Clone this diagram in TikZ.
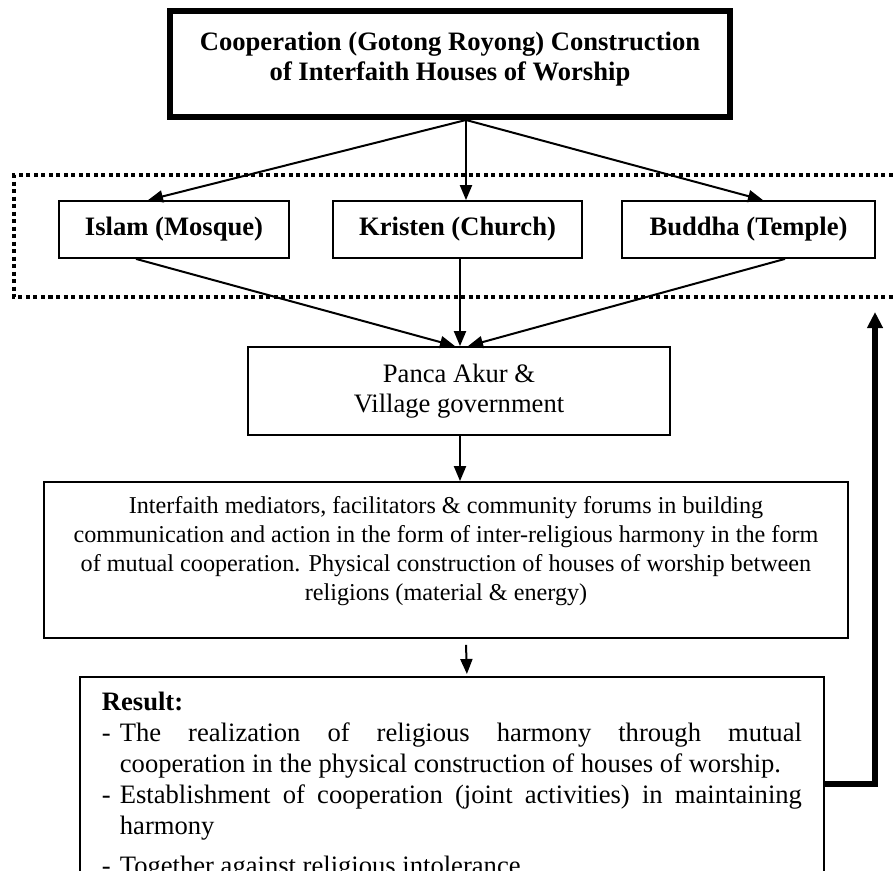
\documentclass[tikz,border=0pt]{standalone}
\usepackage{fontspec}
\setmainfont{Liberation Serif}
\usetikzlibrary{arrows.meta,calc}
\begin{document}
\begin{tikzpicture}[x=1pt,y=-1pt,
  box/.style={draw, line width=1.8pt, inner sep=0pt},
  big/.style={font=\fontsize{26.6}{30}\selectfont},
  bigb/.style={font=\fontsize{26.6}{30}\selectfont\bfseries},
  mid/.style={font=\fontsize{24.2}{29}\selectfont},
  arr/.style={line width=2pt, -{Triangle[length=15pt,width=12pt]}},
  fb/.style={line width=6pt, line join=miter, -{Triangle[length=16pt,width=15pt]}},
  dotframe/.style={line width=4.5pt, dash pattern=on 4pt off 3.5pt},
]
\useasboundingbox (0,0) rectangle (893,870);
\fill[white] (0,0) rectangle (893,870);
\clip (0,0) rectangle (893,870);

% dotted frame (open on the right)
\coordinate (dA) at (900,175);
\coordinate (dB) at (14,175);
\coordinate (dC) at (14,297);
\coordinate (dD) at (900,297);
\draw[dotframe] (dA) -- (dB) -- (dC) -- (dD);

% top box
\node[draw, line width=6pt, inner sep=0pt, minimum width=560pt, minimum height=106pt] (top) at (450,64) {};
\node[bigb, align=center, inner sep=0pt] (title) at (450,58.7) {Cooperation (Gotong Royong) Construction\\of Interfaith Houses of Worship};

% religion boxes
\node[box, bigb, minimum width=230pt, minimum height=57pt] (isl) at (174,229.5) {Islam (Mosque)};
\node[box, bigb, minimum width=249pt, minimum height=57pt] (kri) at (457.5,229.5) {Kristen (Church)};
\node[box, bigb, minimum width=253pt, minimum height=57pt] (bud) at (748.5,229.5) {Buddha (Temple)};

% Panca Akur
\node[box, big, align=center, minimum width=422pt, minimum height=88pt] (pan) at (459,391) {Panca Akur \&\\Village government};

% Interfaith box
\node[box, minimum width=804pt, minimum height=156pt] (inter) at (446,560) {};
\node[mid, align=center, inner sep=0pt] (intertext) at (446,550.9) {Interfaith mediators, facilitators \& community forums in building\\communication and action in the form of inter-religious harmony in the form\\of mutual cooperation. Physical construction of houses of worship between\\religions (material \& energy)};

% Result box
\node[draw, line width=1.8pt, anchor=north west, text width=700pt, inner xsep=22pt, inner ysep=15pt, font=\fontsize{26.6}{31}\selectfont, align=justify] (res) at (79,676) {%
{\bfseries Result:}\par
\hangindent=18pt\hangafter=1\noindent\makebox[18pt][l]{-}The realization of religious harmony through mutual\linebreak cooperation in the physical construction of houses of worship.\par
\hangindent=18pt\hangafter=1\noindent\makebox[18pt][l]{-}Establishment of cooperation (joint activities) in maintaining\linebreak harmony\par
\vspace{9pt}%
\hangindent=18pt\hangafter=1\noindent\makebox[18pt][l]{-}Together against religious intolerance\par};

% connectors
\coordinate (o) at (466,120);
\draw[arr] (o) -- ([xshift=-26pt]isl.north);
\draw[arr] (o) -- ([xshift=8.5pt]kri.north);
\draw[arr] (o) -- ([xshift=14.5pt]bud.north);
\draw[arr] ([xshift=-38pt]isl.south) -- ([xshift=-4pt]pan.north);
\draw[arr] ([xshift=2.5pt]kri.south) -- ([xshift=1pt]pan.north);
\draw[arr] ([xshift=36.5pt]bud.south) -- ([xshift=9pt]pan.north);
\draw[arr] ([xshift=1pt]pan.south) -- ([xshift=1pt]pan.south |- inter.north);
\draw[arr] ([xshift=20pt,yshift=-6pt]inter.south) -- ([xshift=15pt,yshift=2pt]res.north);

\coordinate (fbC) at (875,784);
\coordinate (fbTop) at (875,312);
\draw[fb] (res.north east |- fbC) -- (fbC) -- (fbTop);
\end{tikzpicture}
\end{document}
